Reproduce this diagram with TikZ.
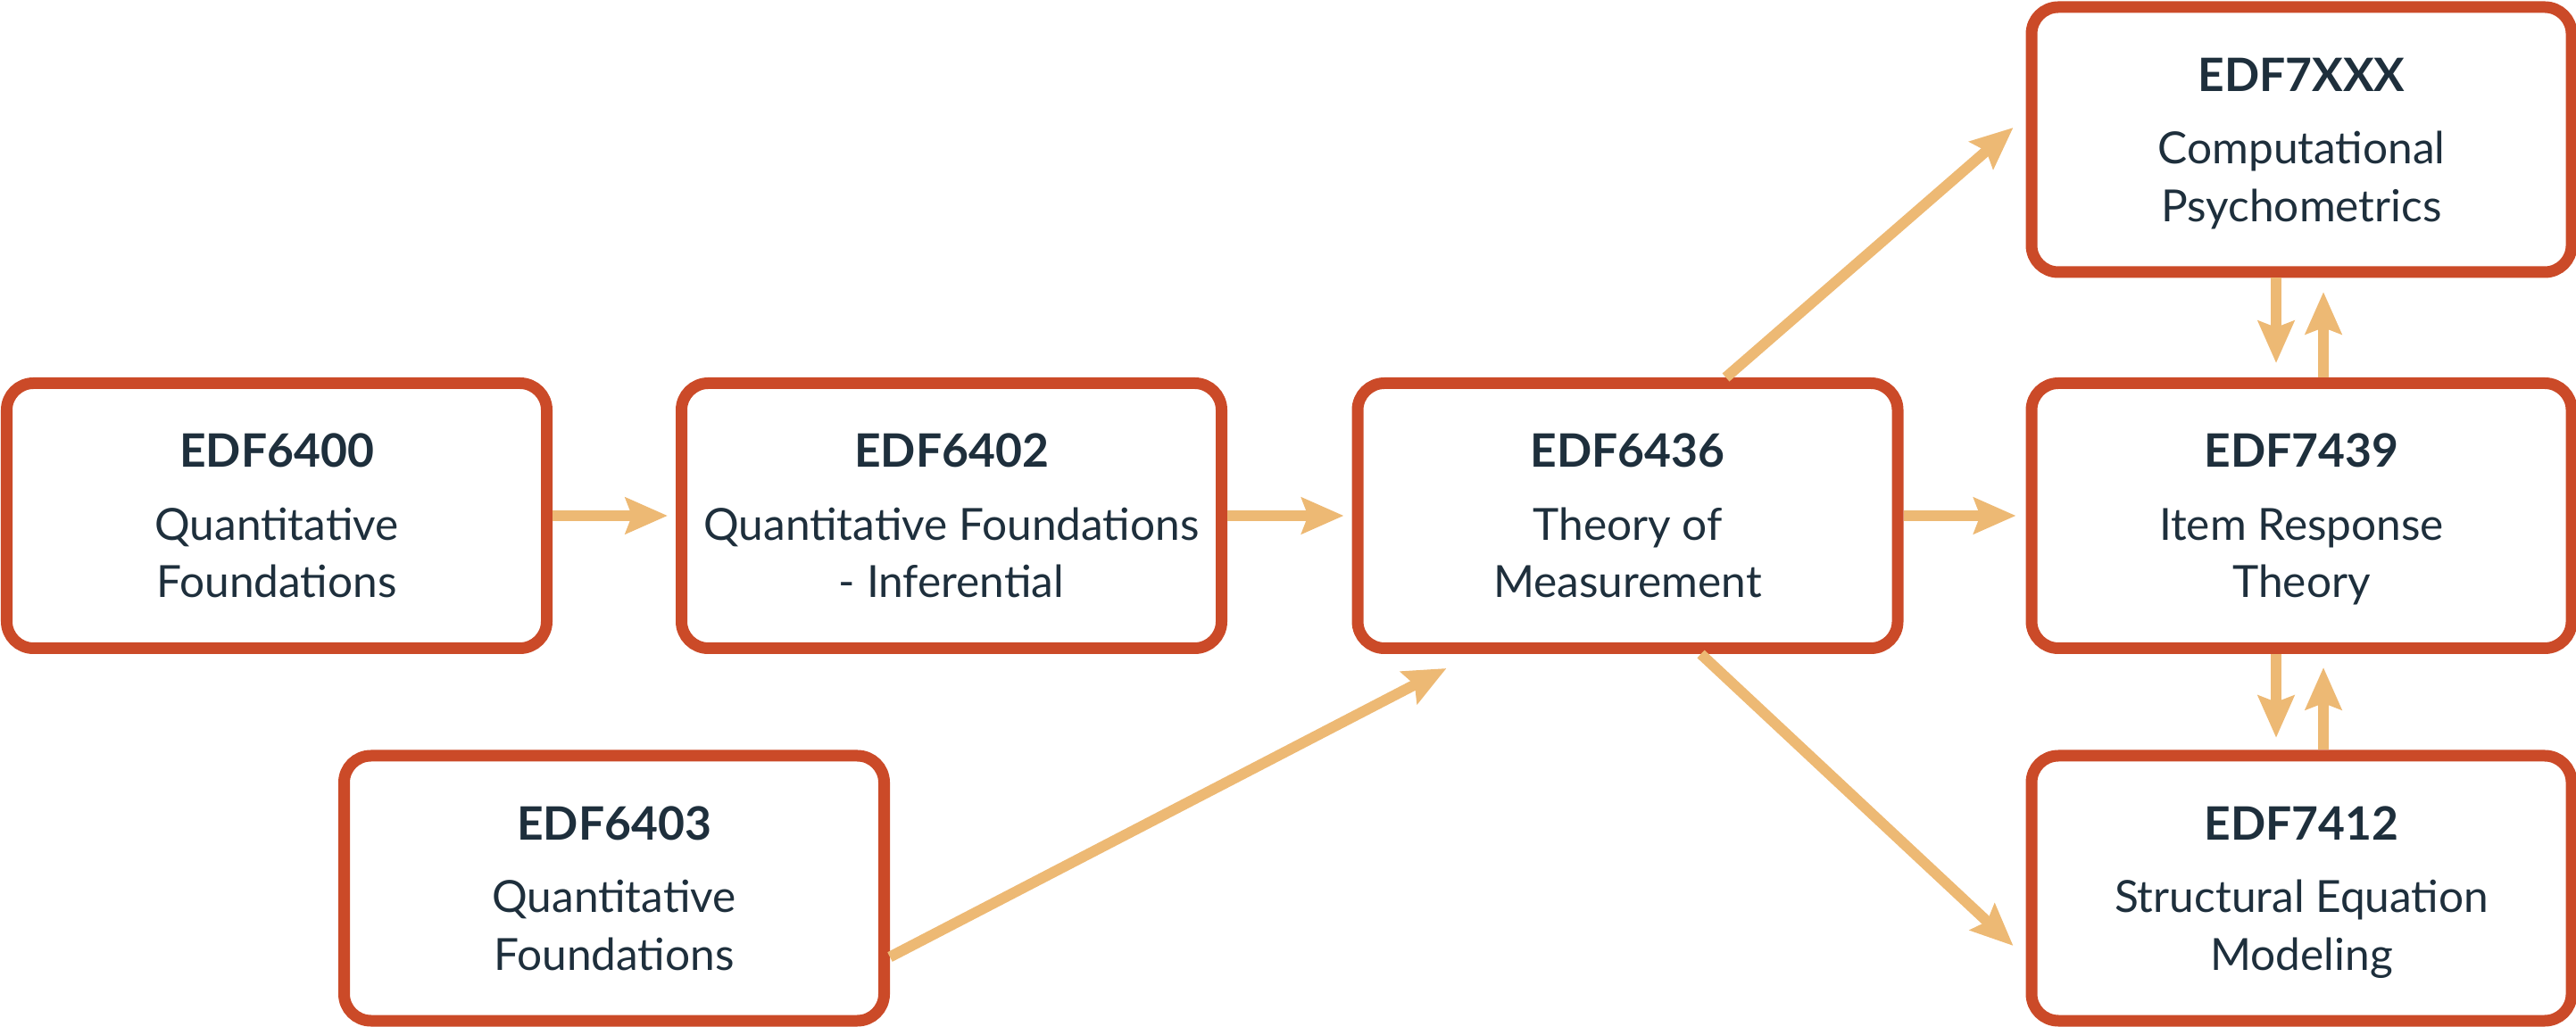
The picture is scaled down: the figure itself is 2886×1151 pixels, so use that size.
\documentclass[tikz,border=0pt]{standalone}
\usepackage{fontspec}
\setmainfont{Lato}
\usetikzlibrary{arrows.meta}
\definecolor{boxred}{HTML}{CB4A28}
\definecolor{arrowtan}{HTML}{EDB974}
\definecolor{txtnavy}{HTML}{1E2F3C}
\newcommand\nodepth[1]{\raisebox{0pt}[\height][0pt]{#1}}
\newcommand\ctitle[1]{{\fontsize{12.9pt}{16.1pt}\selectfont\bfseries #1}}
\begin{document}
\begin{tikzpicture}[x=0.25pt,y=-0.25pt,
  course/.style={draw=boxred, line width=3.25pt, rounded corners=7.5pt,
    minimum width=151.25pt, minimum height=74.25pt, inner sep=0pt,
    align=center, text=txtnavy, fill=white,
    font=\fontsize{12.4pt}{16.1pt}\selectfont},
  flow/.style={draw=arrowtan, line width=3pt,
    -{Stealth[length=11.75pt,width=10pt,inset=1.75pt]}},
]
\useasboundingbox (0,0) rectangle (2886,1151);

\node[course] (b6400) at (310,578) {\ctitle{EDF6400}\\[4.3pt]Quantitative\\\nodepth{Foundations}};
\node[course] (b6402) at (1066,578) {\ctitle{EDF6402}\\[4.3pt]Quantitative Foundations\\\nodepth{- Inferential}};
\node[course] (b6436) at (1823.5,578) {\ctitle{EDF6436}\\[4.3pt]Theory of\\\nodepth{Measurement}};
\node[course] (b6403) at (688,995.5) {\ctitle{EDF6403}\\[4.3pt]Quantitative\\\nodepth{Foundations}};
\node[course] (b7xxx) at (2578.5,156.5) {\ctitle{EDF7XXX}\\[4.3pt]Computational\\\nodepth{Psychometrics}};
\node[course] (b7439) at (2578.5,578) {\ctitle{EDF7439}\\[4.3pt]Item Response\\\nodepth{Theory}};
\node[course] (b7412) at (2578.5,995.5) {\ctitle{EDF7412}\\[4.3pt]Structural Equation\\\nodepth{Modeling}};

\draw[flow, shorten >=2.25pt] (b6400) -- (b6402);
\draw[flow, shorten >=2.25pt] (b6402) -- (b6436);
\draw[flow, shorten >=2.75pt] (b6436) -- (b7439);
\draw[flow] ([shift={(110,0)}]b6436.north) -- ([shift={(-14,-13.5)}]b7xxx.west);
\draw[flow] ([shift={(82,0)}]b6436.south) -- ([shift={(-14,64.5)}]b7412.west);
\draw[flow] ([shift={(0,77)}]b6403.east) -- ([shift={(-203,16)}]b6436.south);

\draw[flow, shorten >=4pt] ([shift={(-28.5,0)}]b7xxx.south) -- ([shift={(-28.5,0)}]b7439.north);
\draw[flow, shorten >=3.9pt] ([shift={(24.5,0)}]b7439.north) -- ([shift={(24.5,0)}]b7xxx.south);
\draw[flow, shorten >=3.4pt] ([shift={(-28.5,0)}]b7439.south) -- ([shift={(-28.5,0)}]b7412.north);
\draw[flow, shorten >=3.75pt] ([shift={(24.5,0)}]b7412.north) -- ([shift={(24.5,0)}]b7439.south);
\end{tikzpicture}
\end{document}
